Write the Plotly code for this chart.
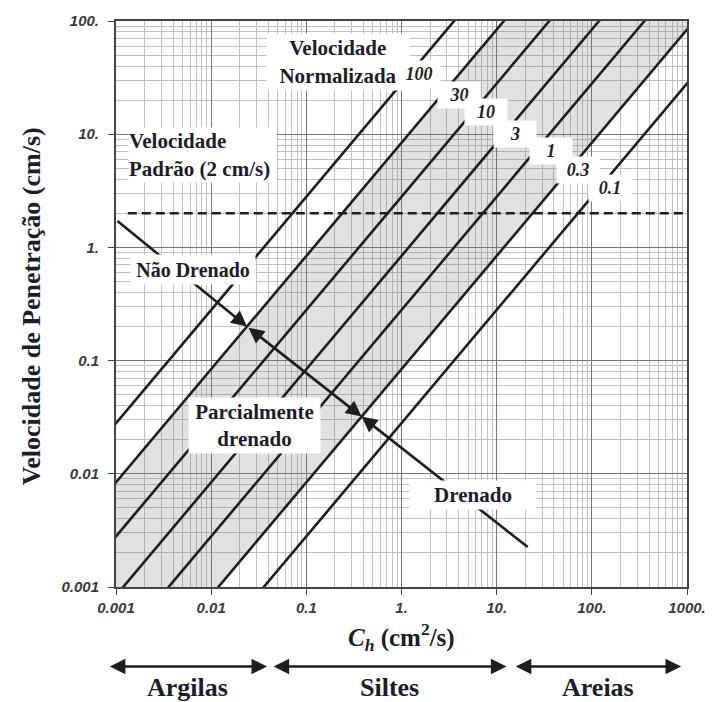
import numpy as np
import plotly.graph_objects as go

# Normalised penetration velocity V = v * d / ch
norm_velocity = [100, 30, 10, 3, 1, 0.3, 0.1]
norm_labels = ["100", "30", "10", "3", "1", "0.3", "0.1"]
cone_diameter = 3.57          # cm (10 cm² cone)
standard_rate = 2.0           # cm/s
partial_band = [30, 0.3]      # V limits of the partially drained zone

# drainage path arrows (ch in cm²/s, v in cm/s)
drain_ch = [0.001, 0.0238, 0.381, 22.0]
drain_v = [1.75, 0.2, 0.032, 0.0022]

# soil classes along the ch axis
soil_names = ["Argilas", "Siltes", "Areias"]
soil_from = [0.00083, 0.0436, 15.3]
soil_to = [0.0387, 12.7, 867.0]

x_ticks = [0.001, 0.01, 0.1, 1, 10, 100, 1000]
x_ticktext = ["0.001", "0.01", "0.1", "1.", "10.", "100.", "1000."]
y_ticks = [0.001, 0.01, 0.1, 1, 10, 100]
y_ticktext = ["0.001", "0.01", "0.1", "1.", "10.", "100."]

INK = "#1c1c2c"
SERIF = "Liberation Serif"
SANS = "Liberation Sans"

ch_ext = np.array([1e-4, 1e4])


def rate_on(V, ch):
    return V * np.asarray(ch) / cone_diameter


fig = go.Figure()

# partially drained band
hi, lo = partial_band
fig.add_trace(go.Scatter(
    x=list(ch_ext) + list(ch_ext[::-1]),
    y=list(rate_on(hi, ch_ext)) + list(rate_on(lo, ch_ext[::-1])),
    fill="toself", fillcolor="rgba(120,120,120,0.22)",
    line=dict(width=0), mode="lines", hoverinfo="skip", showlegend=False,
))

# iso-V lines
for V in norm_velocity:
    fig.add_trace(go.Scatter(
        x=ch_ext, y=rate_on(V, ch_ext), mode="lines",
        line=dict(color="#1e1e1e", width=2.6), hoverinfo="skip", showlegend=False,
    ))

# standard penetration rate
fig.add_trace(go.Scatter(
    x=[0.00133, 1000], y=[standard_rate, standard_rate], mode="lines",
    line=dict(color="#1e1e1e", width=2.6, dash="9px,5px"),
    hoverinfo="skip", showlegend=False,
))

ann = []
arrow_style = dict(showarrow=True, text="", arrowhead=2, arrowsize=1.2,
                   arrowwidth=2.6, arrowcolor="#1e1e1e", standoff=0, startstandoff=0)
lx = np.log10(drain_ch)
ly = np.log10(drain_v)
# undrained -> limit
ann.append(dict(x=lx[1], y=ly[1], ax=lx[0], ay=ly[0], xref="x", yref="y",
                axref="x", ayref="y", **arrow_style))
# partially drained span
ann.append(dict(x=lx[2], y=ly[2], ax=lx[1], ay=ly[1], xref="x", yref="y",
                axref="x", ayref="y", arrowside="end+start", **arrow_style))
# drained -> limit
ann.append(dict(x=lx[2], y=ly[2], ax=lx[3], ay=ly[3], xref="x", yref="y",
                axref="x", ayref="y", **arrow_style))

# soil class arrows below the axis
for name, a, b in zip(soil_names, soil_from, soil_to):
    ann.append(dict(x=np.log10(b), y=-0.1404, ax=np.log10(a), ay=0, xref="x",
                    yref="paper", axref="x", ayref="pixel", arrowside="end+start",
                    **arrow_style))
    ann.append(dict(x=(np.log10(a) + np.log10(b)) / 2, y=-0.177, xref="x",
                    yref="paper", yanchor="middle", xanchor="center",
                    text=f"<b>{name}</b>", showarrow=False,
                    font=dict(family=SERIF, size=26, color=INK)))


# boxed labels inside the chart
def box_label(text, ch, v, w, h, size=21, xanchor="center", align="center"):
    ann.append(dict(x=np.log10(ch), y=np.log10(v), xref="x", yref="y",
                    text="<br>".join(f"<b>{t}</b>" for t in text.split("<br>")),
                    showarrow=False, bgcolor="white", borderpad=0,
                    width=w, height=h, xanchor=xanchor, yanchor="middle",
                    align=align, font=dict(family=SERIF, size=size, color=INK)))


box_label("Velocidade<br>Normalizada", 0.214, 43.6, 142, 56)
box_label("Velocidade<br>Padrão (2 cm/s)", 0.00133, 6.55, 147, 54,
          xanchor="left", align="left")
box_label("Não Drenado", 0.00652, 0.641, 124, 29, size=20)
box_label("Parcialmente<br>drenado", 0.0284, 0.0269, 131, 55)
box_label("Drenado", 5.66, 0.00655, 126, 28)

# V labels, placed along each line
label_v = [34.3, 22.4, 15.6, 10.0, 7.1, 4.83, 3.36]
label_shift = [9, 17, 14, 11, 16, 9, 11]
for V, txt, vv, sh in zip(norm_velocity, norm_labels, label_v, label_shift):
    ann.append(dict(x=np.log10(vv * cone_diameter / V), y=np.log10(vv),
                    xref="x", yref="y", xshift=sh, text=f"<b><i>{txt}</i></b>",
                    showarrow=False, bgcolor="white", borderpad=0, width=42,
                    height=26, yanchor="middle",
                    font=dict(family=SERIF, size=18, color="#222222")))

# axis titles
ann.append(dict(x=-0.148, y=0.497, xref="paper", yref="paper", textangle=-90,
                xanchor="center", yanchor="middle",
                text="<b>Velocidade de Penetração (cm/s)</b>", showarrow=False,
                font=dict(family=SERIF, size=26, color=INK)))
ann.append(dict(x=0.5, y=-0.088, xref="paper", yref="paper",
                xanchor="center", yanchor="middle",
                text="<b><i>C<sub>h</sub></i> (cm<sup>2</sup>/s)</b>",
                showarrow=False, font=dict(family=SERIF, size=25, color=INK)))

tickfont = dict(family=SANS, size=15, color="#3a3a3a", style="italic", weight="bold")
axis_common = dict(
    type="log", showline=True, mirror=True, linecolor="#444444", linewidth=2,
    ticks="outside", ticklen=6, tickcolor="#444444", tickfont=tickfont,
    showgrid=True, gridcolor="#767676", gridwidth=1, zeroline=False,
    minor=dict(dtick="D1", showgrid=True, gridcolor="#c0c0c0", gridwidth=1, ticks=""),
)

fig.update_layout(
    width=718, height=702,
    margin=dict(l=116, r=20, t=17, b=115),
    paper_bgcolor="white", plot_bgcolor="white",
    showlegend=False, hovermode=False,
    annotations=ann,
    xaxis=dict(range=[-3, 3], tickmode="array", tickvals=x_ticks,
               ticktext=x_ticktext, **axis_common),
    yaxis=dict(range=[-3, 2], tickmode="array", tickvals=y_ticks,
               ticktext=y_ticktext, ticklabelstandoff=6, **axis_common),
)

fig.write_html("out.html")
